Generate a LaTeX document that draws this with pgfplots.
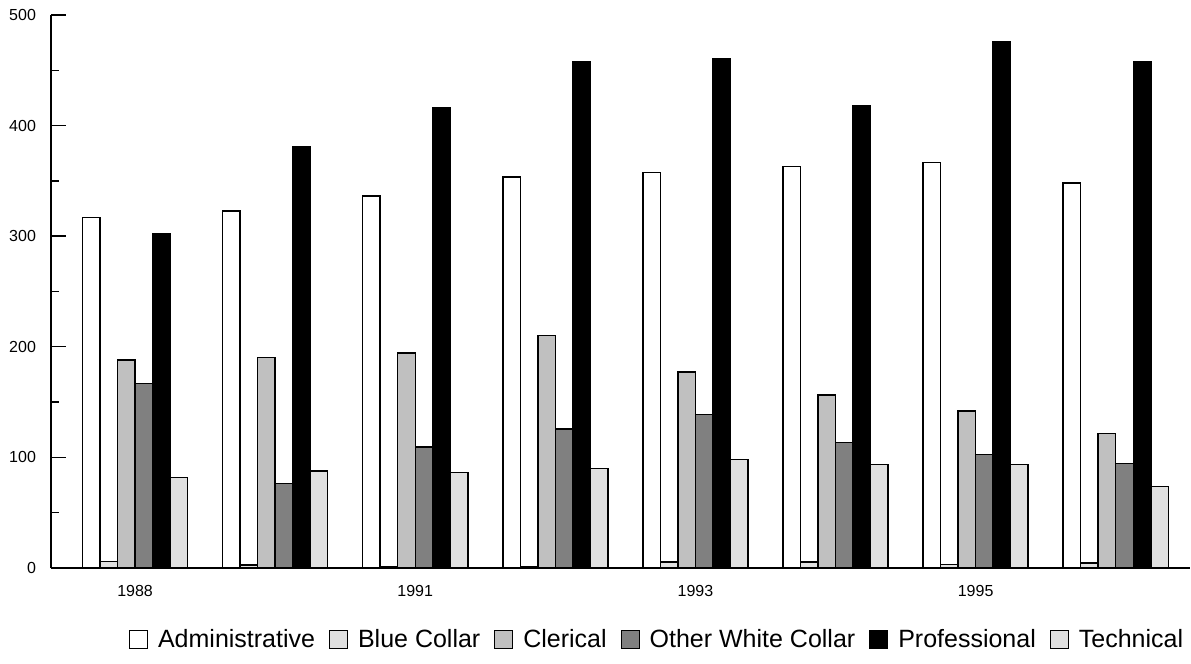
\documentclass[border=0pt]{standalone}
\usepackage{pgfplots}
\pgfplotsset{compat=1.18}
\usepackage{pgfplotstable}
\usepackage{fontspec}
\setmainfont{Liberation Sans}
\definecolor{lgray}{HTML}{E0E0E0}
\definecolor{sgray}{HTML}{C0C0C0}
\definecolor{mgray}{HTML}{808080}
\pgfplotstableread{
x adm blue cler owc prof tech
0 317   6   188   167   302.5 82
1 323   2.5 190.5 76.5  381   87.5
2 336.5 1.5 194.5 109.5 416.5 86.5
3 353.5 1.5 210   125.5 458   90
4 357.5 5.5 177   139   460.5 98
5 363   5.5 156.5 113.5 418   93.5
6 366.5 3   142   102.5 476   93.5
7 348   4.5 121.5 94.5  458   73.5
}\data
\begin{document}
\begin{tikzpicture}
\useasboundingbox (-25.5pt,-48pt) rectangle (570pt,284pt);
\begin{axis}[
  scale only axis, width=569.5pt, height=276.5pt,
  xmin=-0.6, xmax=7.53, ymin=0, ymax=500,
  ybar=0pt, bar width=0.125,
  axis x line*=bottom, axis y line*=left,
  xtick={0,2,4,6}, xticklabels={1988,1991,1993,1995},
  major x tick style={draw=none},
  ytick={0,100,...,500}, minor y tick num=1,
  tick align=inside, major tick length=7.5pt, minor tick length=4pt,
  tick label style={font=\fontsize{8}{9}\selectfont},
  /pgf/number format/assume math mode=true,
  yticklabel style={xshift=-4pt},
  xticklabel style={yshift=-5pt},
  axis line style={line width=0.9pt, black},
  every tick/.style={black, line width=0.7pt},
  legend style={draw=none, at={(0.533,-0.130)}, anchor=center, legend columns=-1,
    font=\fontsize{12.5}{14}\selectfont,
    /tikz/every odd column/.append style={column sep=3pt},
    /tikz/every even column/.append style={column sep=5pt}},
  legend image code/.code={\draw[#1, draw=black, line width=0.5pt] (0pt,-4.5pt) rectangle (9pt,4.5pt);},
]
\addplot[fill=white, draw=black, line width=0.75pt] table[x=x,y=adm]{\data};
\addplot[fill=lgray, draw=black, line width=0.75pt] table[x=x,y=blue]{\data};
\addplot[fill=sgray, draw=black, line width=0.75pt] table[x=x,y=cler]{\data};
\addplot[fill=mgray, draw=black, line width=0.75pt] table[x=x,y=owc]{\data};
\addplot[fill=black, draw=black, line width=0.75pt] table[x=x,y=prof]{\data};
\addplot[fill=lgray, draw=black, line width=0.75pt] table[x=x,y=tech]{\data};
\legend{Administrative, Blue Collar, Clerical, Other White Collar, Professional, Technical}
\end{axis}
\end{tikzpicture}
\end{document}
